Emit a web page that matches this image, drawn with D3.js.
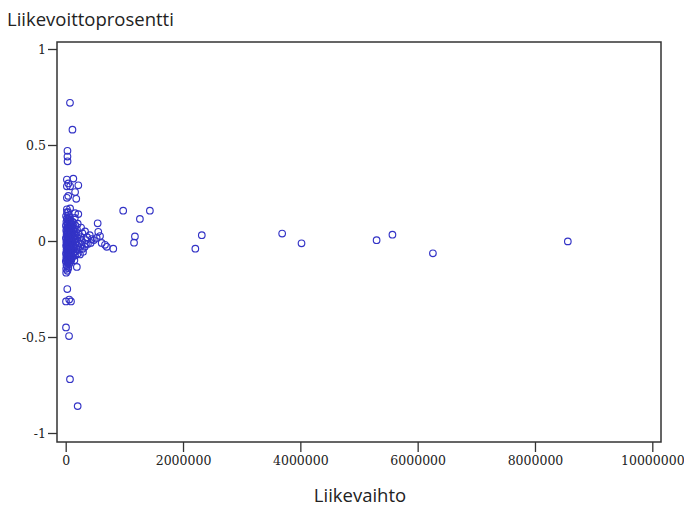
<!DOCTYPE html>
<html>
<head>
<meta charset="utf-8">
<script src="https://cdn.jsdelivr.net/npm/d3@7"></script>
<style>
  body { margin: 0; background: #fff; }
</style>
</head>
<body>
<svg id="chart" width="684" height="506"></svg>
<script>
    // Liikevaihto (x) and Liikevoittoprosentti (y)
    var liikevaihto = [
      // upper outliers
      73000, 115000, 30000, 30000, 32000, 20000, 130000, 45000, 215000, 75000,
      20000, 160000, 45000, 180000, 20000, 75000, 20000, 22000, 160000, 215000,
      // lower outliers
      190000, 8000, 27000, 5000, 60000, 90000, 5000, 57000, 73000, 204000,
      // big companies
      980000, 1265000, 1435000, 1180000, 1165000, 2320000, 2210000, 3690000, 4020000,
      5300000, 5570000, 6260000, 8560000,
      // near tail
      545000, 555000, 585000, 528000, 613000, 670000, 700000, 811000, 345000, 295000, 243000, 480000,
      // dense core
      6000, 12000, 4000, 9000, 15000, 3000, 11000, 7000, 14000, 5000, 10000, 2000, 13000, 8000,
      19000, 21000, 18000, 22000, 20000, 17000, 23000, 19500, 21500, 18500, 20500,
      28000, 33000, 25000, 36000, 29000, 31000, 26000, 34000, 27000, 32000, 24000, 35000, 30000,
      42000, 40000, 44000, 41000, 43000, 39000, 45000, 42500, 40500, 43500, 41500, 44500,
      52000, 58000, 49000, 55000, 61000, 50000, 57000, 53000, 60000, 48000, 56000, 51000, 59000,
      66000, 68000, 64000, 70000, 67000, 65000, 69000, 66500, 68500, 64500, 67500,
      82000, 76000, 88000, 79000, 85000, 91000, 77000, 86000, 80000, 89000, 83000, 78000,
      100000, 97000, 103000, 99000, 101000, 96000, 104000, 98000, 102000, 95000,
      118000, 112000, 126000, 115000, 122000, 109000, 129000, 117000, 124000, 113000,
      138000, 135000, 141000, 137000, 140000, 134000, 142000, 136000,
      155000, 168000, 150000, 162000, 157000, 170000, 152000, 165000, 159000, 148000,
      205000, 192000, 218000, 200000, 212000, 196000, 222000, 208000,
      262000, 285000, 255000, 278000, 268000, 290000,
      330000, 365000, 345000, 378000, 325000,
      410000, 445000, 425000
    ];
    var liikevoitto = [
      0.72, 0.58, 0.47, 0.44, 0.415, 0.32, 0.325, 0.30, 0.29, 0.285,
      0.285, 0.255, 0.235, 0.22, 0.225, 0.17, 0.165, 0.15, 0.145, 0.14,
      -0.135, -0.165, -0.25, -0.315, -0.305, -0.315, -0.45, -0.495, -0.72, -0.86,
      0.158, 0.115, 0.158, 0.024, -0.009, 0.03, -0.04, 0.039, -0.012,
      0.004, 0.033, -0.064, -0.002,
      0.092, 0.048, 0.026, 0.016, -0.01, -0.02, -0.03, -0.04, -0.015, -0.057, -0.07, 0.005,
      0.13, 0.10, 0.08, 0.055, 0.035, 0.015, -0.005, -0.025, -0.045, -0.065, -0.085, -0.105, -0.125, -0.145,
      0.115, 0.07, 0.045, 0.02, 0.0, -0.02, -0.04, -0.06, -0.08, -0.1, -0.13,
      0.12, 0.09, 0.065, 0.045, 0.025, 0.005, -0.015, -0.035, -0.055, -0.075, -0.095, -0.115, -0.155,
      0.15, 0.11, 0.07, 0.03, 0.01, -0.01, -0.03, -0.05, -0.07, -0.09, -0.11, -0.14,
      0.135, 0.105, 0.08, 0.06, 0.04, 0.02, 0.0, -0.02, -0.04, -0.06, -0.08, -0.10, -0.12,
      0.125, 0.095, 0.07, 0.05, 0.025, 0.005, -0.015, -0.035, -0.055, -0.075, -0.095,
      0.11, 0.085, 0.065, 0.045, 0.03, 0.01, -0.01, -0.03, -0.05, -0.07, -0.09, -0.11,
      0.09, 0.06, 0.04, 0.02, 0.0, -0.02, -0.04, -0.06, -0.08, -0.1,
      0.10, 0.075, 0.055, 0.035, 0.015, -0.005, -0.025, -0.045, -0.065, -0.085,
      0.095, 0.065, 0.04, 0.02, 0.0, -0.02, -0.04, -0.06,
      0.12, 0.08, 0.05, 0.03, 0.01, -0.01, -0.03, -0.055, -0.075, -0.10,
      0.09, 0.06, 0.035, 0.015, -0.005, -0.025, -0.045, -0.065,
      0.07, 0.04, 0.02, 0.0, -0.02, -0.04,
      0.05, 0.02, 0.005, -0.015, -0.03,
      0.03, 0.01, -0.01
    ];

    var xTicks = [0, 2000000, 4000000, 6000000, 8000000, 10000000];
    var yTicks = [-1, -0.5, 0, 0.5, 1];
    var xTitle = 'Liikevaihto';
    var yTitle = 'Liikevoittoprosentti';

    var svg = d3.select("#chart");

    var frame = { left: 57, right: 661, top: 42, bottom: 442 };

    var x = d3.scaleLinear().domain([0, 10000000]).range([65.7, 652.3]);
    var y = d3.scaleLinear().domain([-1, 1]).range([433, 49]);

    var points = liikevaihto.map(function(v, i) { return { x: v, y: liikevoitto[i] }; });

    svg.append("g")
      .attr("class", "points")
      .selectAll("circle")
      .data(points)
      .enter().append("circle")
        .attr("cx", function(d) { return x(d.x); })
        .attr("cy", function(d) { return y(d.y); })
        .attr("r", 3.3)
        .attr("fill", "none")
        .attr("stroke", "#3333c6")
        .attr("stroke-width", 1.15);

    // x axis hangs below the frame
    var xAxis = svg.append("g")
      .attr("transform", "translate(0," + frame.bottom + ")")
      .call(d3.axisBottom(x).tickValues(xTicks).tickSize(10).tickSizeOuter(0).tickFormat(d3.format("d")));
    xAxis.select(".domain").remove();
    xAxis.selectAll("line").attr("stroke", "#333").attr("stroke-width", 1.3);
    xAxis.selectAll("text")
      .attr("y", 14)
      .attr("font-family", "'DejaVu Serif', serif")
      .attr("font-size", 12.5)
      .attr("fill", "#222");

    var yAxis = svg.append("g")
      .attr("transform", "translate(" + frame.left + ",0)")
      .call(d3.axisLeft(y).tickValues(yTicks).tickSize(9).tickSizeOuter(0).tickFormat(d3.format("")));
    yAxis.select(".domain").remove();
    yAxis.selectAll("line").attr("stroke", "#333").attr("stroke-width", 1.3);
    yAxis.selectAll("text")
      .attr("x", -11)
      .attr("font-family", "'DejaVu Serif', serif")
      .attr("font-size", 12.5)
      .attr("fill", "#222")
      .text(function(d) { return d3.format("")(d).replace("\u2212", "-"); });

    svg.append("rect")
      .attr("x", frame.left)
      .attr("y", frame.top)
      .attr("width", frame.right - frame.left)
      .attr("height", frame.bottom - frame.top)
      .attr("fill", "none")
      .attr("stroke", "#333")
      .attr("stroke-width", 1.5);

    svg.append("text")
      .attr("x", 7)
      .attr("y", 26)
      .attr("font-family", "'Open Sans', sans-serif")
      .attr("font-size", 18.5)
      .attr("fill", "#222")
      .text(yTitle);

    svg.append("text")
      .attr("x", 360)
      .attr("y", 502)
      .attr("text-anchor", "middle")
      .attr("font-family", "'Open Sans', sans-serif")
      .attr("font-size", 18.5)
      .attr("fill", "#222")
      .text(xTitle);
</script>
</body>
</html>
